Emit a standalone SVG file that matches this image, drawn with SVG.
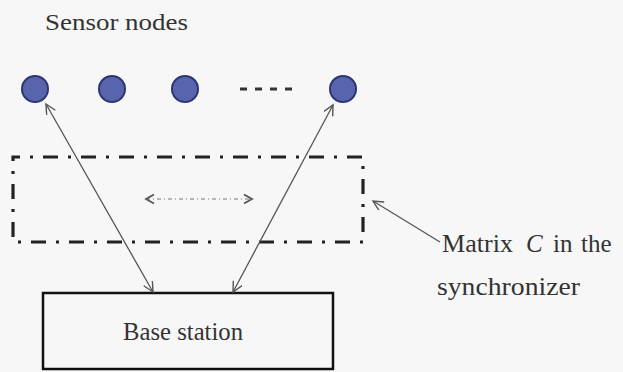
<svg xmlns="http://www.w3.org/2000/svg" width="623" height="372" viewBox="0 0 623 372">
<defs>
<style>
.t{font-family:"Liberation Serif","Times New Roman",serif;fill:#333;}
.node{fill:#5865ad;stroke:#2b3672;stroke-width:2;}
.conn{stroke:#555;stroke-width:1.3;fill:none;}
</style>
<marker id="ah" markerUnits="userSpaceOnUse" markerWidth="14" markerHeight="12" refX="11" refY="5" orient="auto-start-reverse" viewBox="0 0 14 12">
<path d="M1,0 L11,5 L1,10" fill="none" stroke="#555" stroke-width="1.4"/>
</marker>
<marker id="ah2" markerUnits="userSpaceOnUse" markerWidth="14" markerHeight="12" refX="10" refY="5" orient="auto-start-reverse" viewBox="0 0 14 12">
<path d="M2,0.5 L10,5 L2,9.5" fill="none" stroke="#555" stroke-width="1.8"/>
</marker>
</defs>
<rect width="623" height="372" fill="#f7f7f7"/>
<text class="t" x="45" y="30" font-size="23" textLength="143" lengthAdjust="spacingAndGlyphs">Sensor nodes</text>
<g id="node1"><circle class="node" cx="35" cy="89" r="13"/></g>
<g id="node2"><circle class="node" cx="112" cy="89" r="13"/></g>
<g id="node3"><circle class="node" cx="185" cy="89" r="13"/></g>
<g id="ellipsis"><line x1="240" y1="89" x2="292" y2="89" stroke="#333" stroke-width="3" stroke-dasharray="7 8"/></g>
<g id="node4"><circle class="node" cx="343" cy="89" r="13"/></g>
<g id="matrix">
<rect x="13" y="157" width="350" height="85" fill="none" stroke="#222" stroke-width="3.2" stroke-dasharray="15 10 3 10" stroke-dashoffset="8"/>
<line x1="146" y1="199" x2="252" y2="199" stroke="#777" stroke-width="1.1" stroke-dasharray="4 3 1 3" marker-start="url(#ah2)" marker-end="url(#ah2)"/>
</g>
<g id="base">
<rect x="43" y="293" width="290" height="76" fill="none" stroke="#111" stroke-width="2.5"/>
<text class="t" x="123" y="340" font-size="25" textLength="120" lengthAdjust="spacingAndGlyphs">Base station</text>
</g>
<g id="label">
<text class="t" y="252" font-size="25"><tspan x="442" textLength="71" lengthAdjust="spacingAndGlyphs">Matrix</tspan><tspan x="526" font-style="italic">C</tspan><tspan x="553">in</tspan><tspan x="581">the</tspan></text>
<text class="t" x="437" y="295" font-size="25" textLength="143" lengthAdjust="spacingAndGlyphs">synchronizer</text>
</g>
<g id="connectors">
<line class="conn" x1="153" y1="292" x2="46" y2="104" marker-start="url(#ah)" marker-end="url(#ah)"/>
<line class="conn" x1="233" y1="292" x2="333" y2="105" marker-start="url(#ah)" marker-end="url(#ah)"/>
<line class="conn" x1="440" y1="242" x2="373" y2="201" marker-end="url(#ah)"/>
</g>
</svg>
